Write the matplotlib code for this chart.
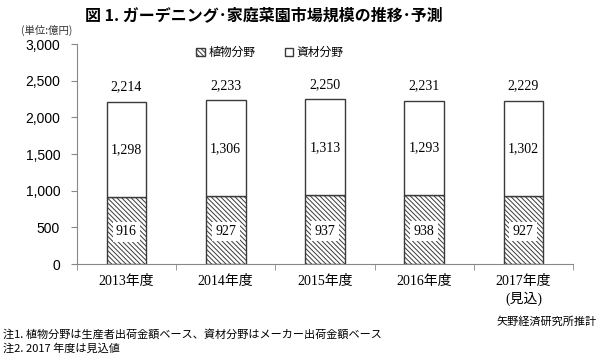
import matplotlib
matplotlib.use("Agg")
import matplotlib.pyplot as plt
from matplotlib.patches import Patch
from matplotlib.ticker import FuncFormatter, FixedLocator

plt.rcParams["font.family"] = ["Liberation Sans", "Noto Sans CJK JP"]
plt.rcParams["hatch.linewidth"] = 0.7

JP = ["Noto Sans CJK JP", "DejaVu Sans"]
SERIF = ["Liberation Serif", "Noto Sans CJK JP"]

# data
years = ["2013年度", "2014年度", "2015年度", "2016年度", "2017年度\n(見込)"]
plants = [916, 927, 937, 938, 927]       # 植物分野
materials = [1298, 1306, 1313, 1293, 1302]  # 資材分野
totals = [2214, 2233, 2250, 2231, 2229]

EDGE = "#3a3a3a"
HATCH = "\\\\\\\\\\\\\\"

fig = plt.figure(figsize=(6.0, 3.56), dpi=100)
ax = fig.add_axes([0.128, 0.258, 0.827, 0.618])

x = list(range(len(years)))
w = 0.4
ax.bar(x, plants, width=w, color="white", edgecolor=EDGE, hatch=HATCH,
       linewidth=1.0)
ax.bar(x, materials, width=w, bottom=plants, color="white", edgecolor=EDGE,
       linewidth=1.0)

for i in x:
    ax.text(i, plants[i] * 0.48, f"{plants[i]:,}", ha="center", va="center",
            family=SERIF, fontsize=10,
            bbox=dict(boxstyle="square,pad=0.25", fc="white", ec="none"))
    ax.text(i, plants[i] + materials[i] / 2, f"{materials[i]:,}",
            ha="center", va="center", family=SERIF, fontsize=10)
    ax.annotate(f"{totals[i]:,}", (i, totals[i]), xytext=(0, 6),
                textcoords="offset points", ha="center", va="bottom",
                family=SERIF, fontsize=10)

ax.set_ylim(0, 3000)
ax.set_xlim(-0.5, len(years) - 0.5)
ax.set_yticks(range(0, 3001, 500))
ax.yaxis.set_major_formatter(FuncFormatter(lambda v, p: f"{int(v):,}"))
ax.tick_params(axis="y", labelsize=10, color="#888888", length=4, pad=8)

ax.set_xticks(x)
ax.set_xticklabels(years, family=SERIF, fontsize=10, linespacing=1.3)
ax.xaxis.set_minor_locator(FixedLocator([i - 0.5 for i in range(len(years) + 1)]))
ax.tick_params(axis="x", which="major", length=0, pad=8)
ax.tick_params(axis="x", which="minor", length=4, color="#888888")

for s in ["top", "right"]:
    ax.spines[s].set_visible(False)
for s in ["left", "bottom"]:
    ax.spines[s].set_color("#888888")

handles = [Patch(facecolor="white", edgecolor=EDGE, hatch=HATCH, label="植物分野"),
           Patch(facecolor="white", edgecolor=EDGE, label="資材分野")]
fig.legend(handles=handles, loc="center", bbox_to_anchor=(0.45, 0.853), ncol=2,
           frameon=False, handlelength=0.7, handleheight=0.7, handletextpad=0.3,
           columnspacing=2.5, prop={"family": JP, "size": 8.5})

fig.text(0.44, 0.958, "図 1. ガーデニング･家庭菜園市場規模の推移･予測", ha="center",
         va="center", family=JP, fontsize=11.5, fontweight="bold")
fig.text(0.035, 0.915, "(単位:億円)", ha="left", va="center", family=JP,
         fontsize=7.5, color="#333333")
fig.text(0.995, 0.098, "矢野経済研究所推計", ha="right", va="center", family=JP,
         fontsize=8)
fig.text(0.005, 0.062, "注1. 植物分野は生産者出荷金額ベース、資材分野はメーカー出荷金額ベース",
         ha="left", va="center", family=JP, fontsize=8)
fig.text(0.005, 0.022, "注2. 2017 年度は見込値", ha="left", va="center",
         family=JP, fontsize=8)

fig.savefig("out.png", dpi=100)
